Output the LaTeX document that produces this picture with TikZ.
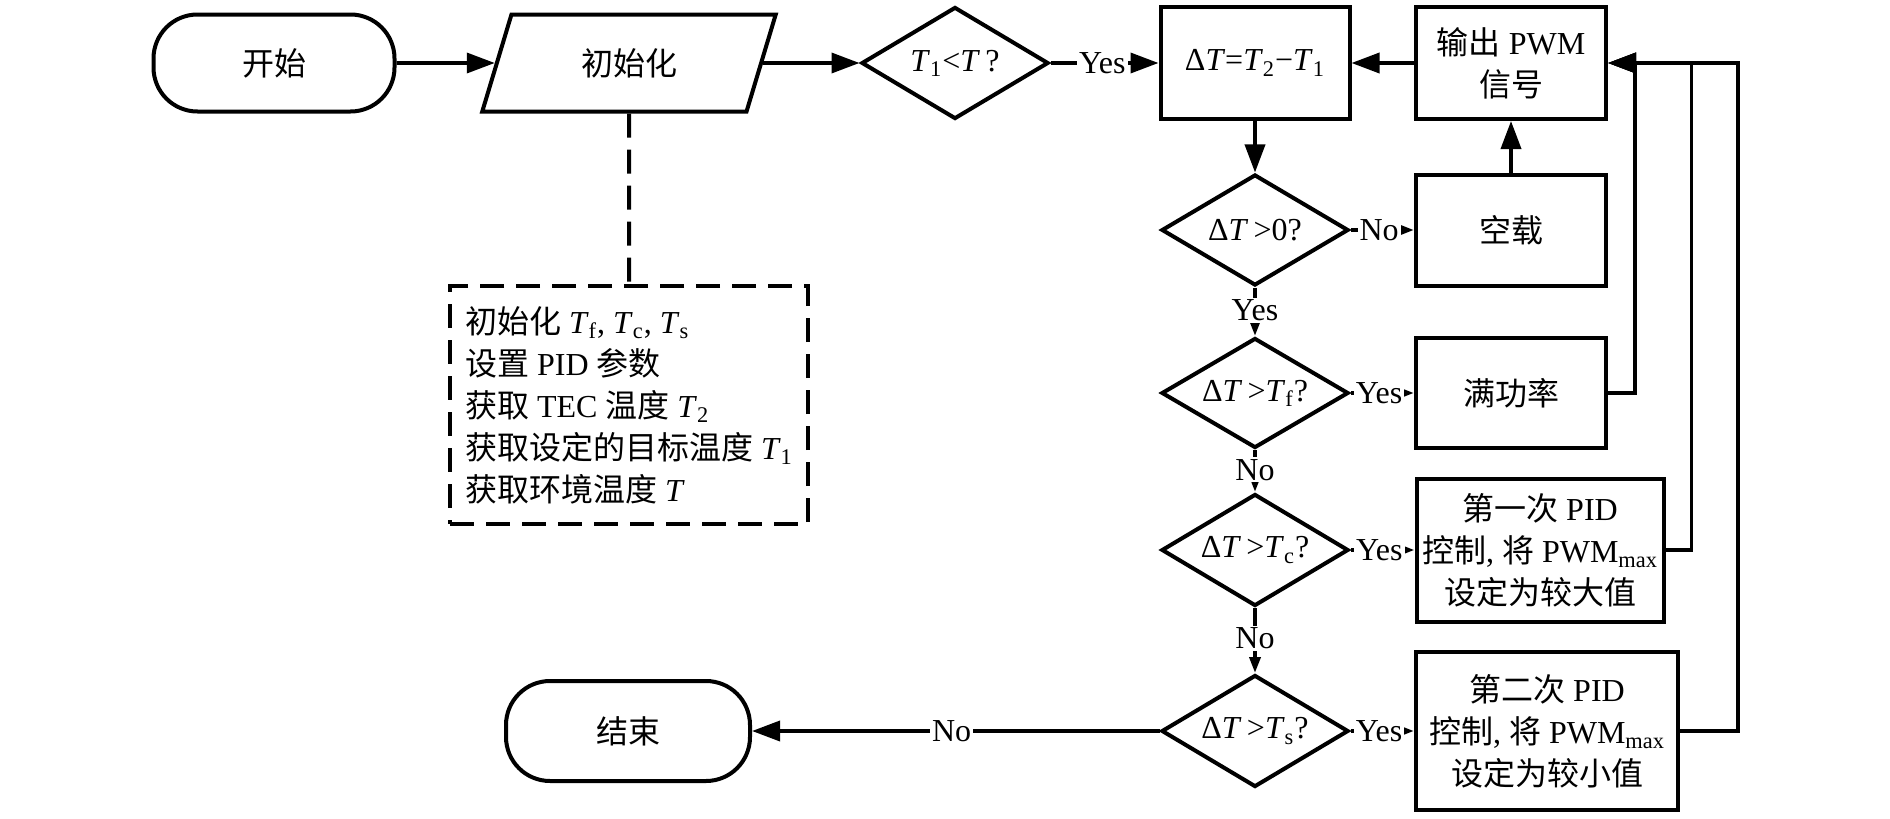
\documentclass[tikz,border=0pt]{standalone}
\usepackage{fontspec}
\setmainfont{Liberation Serif}
\newfontfamily\cjk{Noto Sans CJK SC}
\usetikzlibrary{shapes.geometric,arrows.meta}
\newcommand\zh[1]{{\cjk #1}}
\newcommand\tT{\textit{T}}
\newcommand\tTs[1]{\textit{T}\textsubscript{#1}}
\begin{document}
\begin{tikzpicture}[x=0.5pt,y=-0.5pt,
  every node/.style={font=\fontsize{16}{21}\selectfont},
  box/.style={draw, line width=2pt, rectangle, align=center, inner sep=2pt},
  term/.style={box, rounded corners=22pt},
  dec/.style={draw, line width=2pt, diamond, shape aspect=1.67, inner sep=0pt, align=center},
  para/.style={draw, line width=2pt, trapezium, trapezium left angle=68, trapezium right angle=112, trapezium stretches=true, inner sep=0pt},
  big/.style={line width=1.8pt, -{Triangle[length=14pt,width=10pt]}},
  small/.style={line width=1.8pt, -{Triangle[length=8pt,width=5.5pt]}},
  lab/.style={fill=white, inner sep=1pt},
  fb/.style={line width=1.8pt, -{Triangle[length=14pt,width=10pt]}},
  notebox/.style={draw, line width=2pt, dash pattern=on 12pt off 6pt, align=left, inner sep=0pt},
  notelink/.style={line width=2pt, dash pattern=on 12pt off 6pt},
]
\useasboundingbox (0,0) rectangle (1890,819);

% nodes
\node[term, minimum width=120.5pt, minimum height=48.5pt] (start) at (274,63) {\zh{开始}};
\node[para, minimum width=147.5pt, minimum height=48.5pt] (init) at (629,63) {\zh{初始化}};
\node[dec, minimum width=93.5pt, minimum height=56pt] (c0) at (955,63) {\tTs{1}<\tT\,?};
\node[box, minimum width=94.5pt, minimum height=56pt] (dT) at (1255,63) {Δ\tT=\tTs{2}−\tTs{1}};
\node[box, minimum width=95pt, minimum height=56pt] (out) at (1511,63) {\zh{输出} PWM\\\zh{信号}};
\node[dec, minimum width=93.5pt, minimum height=55.5pt] (d0) at (1255,230) {Δ\tT\,>0?};
\node[box, minimum width=95pt, minimum height=55.5pt] (idle) at (1511,230) {\zh{空载}};
\node[dec, minimum width=93.5pt, minimum height=55pt] (df) at (1255,393) {Δ\tT\,>\tTs{f}?};
\node[box, minimum width=95pt, minimum height=55pt] (full) at (1511,393) {\zh{满功率}};
\node[dec, minimum width=93.5pt, minimum height=56pt] (dc) at (1255,550) {Δ\tT\,>\tTs{c}?};
\node[box, minimum width=123.5pt, minimum height=71.5pt] (pid1) at (1540,550) {\zh{第一次} PID\\\zh{控制}, \zh{将} PWM\textsubscript{max}\\\zh{设定为较大值}};
\node[dec, minimum width=93.5pt, minimum height=56pt] (ds) at (1255,731) {Δ\tT\,>\tTs{s}?};
\node[box, minimum width=131pt, minimum height=79pt] (pid2) at (1547,731) {\zh{第二次} PID\\\zh{控制}, \zh{将} PWM\textsubscript{max}\\\zh{设定为较小值}};
\node[term, minimum width=122pt, minimum height=50pt] (end) at (628,731) {\zh{结束}};
\node[notebox, minimum width=179pt, minimum height=119pt] (note) at (629,405)
  {\zh{初始化} \tTs{f}, \tTs{c}, \tTs{s}\\\zh{设置} PID \zh{参数}\\\zh{获取} TEC \zh{温度} \tTs{2}\\\zh{获取设定的目标温度} \tTs{1}\\\zh{获取环境温度} \tT};

% connectors
\draw[big] (start) -- (init);
\draw[big] (init) -- (c0);
\draw[big] (c0) -- node[lab, pos=0.48] {Yes} (dT);
\draw[big] (out) -- (dT);
\draw[big] (dT) -- (d0);
\draw[big] (idle) -- (out);
\draw[small] (d0) -- node[lab, pos=0.45] {No} (idle);
\draw[small] (d0) -- node[lab, pos=0.47] {Yes} (df);
\draw[small] (df) -- node[lab, pos=0.45] {Yes} (full);
\draw[small] (df) -- node[lab, pos=0.47] {No} (dc);
\draw[small] (dc) -- node[lab, pos=0.45] {Yes} (pid1);
\draw[small] (dc) -- node[lab, pos=0.47] {No} (ds);
\draw[small] (ds) -- node[lab, pos=0.45] {Yes} (pid2);
\draw[big] (ds) -- node[lab, pos=0.51] {No} (end);
\draw[notelink] (init.south) -- (note.north);
\draw[fb] (full.east) -- ++(27,0) |- (out.east);
\draw[fb] (pid1.east) -- ++(26,0) |- (out.east);
\draw[fb] (pid2.east) -- ++(58,0) |- (out.east);
\end{tikzpicture}
\end{document}
